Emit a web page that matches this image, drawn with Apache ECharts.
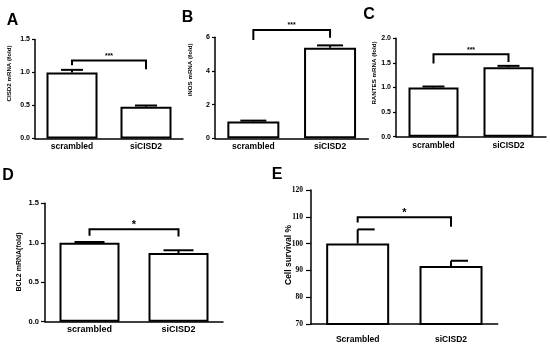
<!DOCTYPE html>
<html><head><meta charset="utf-8">
<script src="https://cdn.jsdelivr.net/npm/echarts@6/dist/echarts.min.js"></script>
<style>html,body{margin:0;padding:0;background:#fff}#c{width:550px;height:347px}</style>
</head><body><div id="c"></div>
<script>
// ---- data ----
const catsLower = ['scrambled', 'siCISD2'];
const catsE = ['Scrambled', 'siCISD2'];
const valsA = [1.0, 0.48];   const errA = [1.04, 0.50];
const valsB = [1.0, 5.38];   const errB = [1.05, 5.52];
const valsC = [1.0, 1.41];   const errC = [1.02, 1.44];
const valsD = [1.0, 0.87];   const errD = [1.01, 0.905];
const valsE = [100, 91.6];   const errE = [105.3, 93.6];
// bracket: [bar level, left leg end, right leg end, star level]
const brA = [1.18, 1.11, 1.05, 1.25];
const brB = [6.43, 5.84, 5.98, 6.75];
const brC = [1.675, 1.49, 1.52, 1.77];
const brD = [1.17, 1.09, 1.08, 1.22];
const brE = [109.8, 107.9, 106.3, 111.6];
const starsA = '***', starsB = '***', starsC = '***', starsD = '*', starsE = '*';
const titles = ['CISD2 mRNA (fold)', 'iNOS mRNA (fold)', 'RANTES mRNA (fold)', 'BCL2 mRNA(fold)', 'Cell survival %'];
const letters = ['A', 'B', 'C', 'D', 'E'];
const yTicksA = [0, 1.5, 0.5], yTicksB = [0, 6, 2], yTicksC = [0, 2, 0.5], yTicksD = [0, 1.5, 0.5], yTicksE = [70, 120, 10];

const FONT = 'Liberation Sans';
const chart = echarts.init(document.getElementById('c'), null, {renderer: 'canvas'});

const panels = [
  {grid: {left: 35, top: 39.5, width: 148, height: 99}, cats: catsLower, vals: valsA, err: errA, br: brA, stars: starsA, ticks: yTicksA, dec: 1,
   barW: 51, cap: [11, 11], tickFs: 7, catFs: 8.5, titleFs: 6.2, labMargin: 5, catMargin: 4, starFs: 7, serif: false, tickLen: 3},
  {grid: {left: 215, top: 37.3, width: 153.4, height: 101}, cats: catsLower, vals: valsB, err: errB, br: brB, stars: starsB, ticks: yTicksB, dec: 0,
   barW: 52, cap: [13, 13], tickFs: 7, catFs: 8.5, titleFs: 6.2, labMargin: 5, catMargin: 4, starFs: 7, serif: false, tickLen: 3},
  {grid: {left: 396, top: 38.3, width: 150, height: 98.4}, cats: catsLower, vals: valsC, err: errC, br: brC, stars: starsC, ticks: yTicksC, dec: 1,
   barW: 50, cap: [11, 11], tickFs: 7, catFs: 8.5, titleFs: 6.2, labMargin: 5, catMargin: 4, starFs: 7, serif: false, tickLen: 3},
  {grid: {left: 45, top: 203.3, width: 178, height: 118.4}, cats: catsLower, vals: valsD, err: errD, br: brD, stars: starsD, ticks: yTicksD, dec: 1,
   barW: 60, cap: [15, 15], tickFs: 7.5, catFs: 9, titleFs: 7, labMargin: 6, catMargin: 3, starFs: 11, serif: false, tickLen: 4},
  {grid: {left: 311, top: 190, width: 186.7, height: 134}, cats: catsE, vals: valsE, err: errE, br: brE, stars: starsE, ticks: yTicksE, dec: 0,
   barW: 63, cap: [0, 17], tickFs: 7.5, catFs: 8.5, titleFs: 8.5, labMargin: 8, catMargin: 11, starFs: 11, serif: true, tickLen: 5}
];

const grid = [], xAxis = [], yAxis = [], series = [];
panels.forEach((p, i) => {
  grid.push(Object.assign({outerBoundsMode: 'none', containLabel: false}, p.grid));
  xAxis.push({
    type: 'category', gridIndex: i, data: p.cats,
    axisLine: {lineStyle: {color: '#000', width: 1.5}},
    axisTick: {show: false},
    axisLabel: {color: '#000', fontFamily: FONT, fontWeight: 'bold', fontSize: p.catFs, margin: p.catMargin}
  });
  yAxis.push({
    type: 'value', gridIndex: i, min: p.ticks[0], max: p.ticks[1], interval: p.ticks[2],
    axisLine: {show: true, lineStyle: {color: '#000', width: 1.5}},
    axisTick: {show: true, length: p.tickLen, lineStyle: {color: '#000', width: 1.2}},
    splitLine: {show: false},
    axisLabel: {color: '#000', fontFamily: p.serif ? 'Liberation Serif' : FONT, fontWeight: 'bold', fontSize: p.tickFs, margin: p.labMargin,
      formatter: v => v.toFixed(p.dec)}
  });
  series.push({
    type: 'bar', xAxisIndex: i, yAxisIndex: i, data: p.vals, barWidth: p.barW,
    itemStyle: {color: '#fff', borderColor: '#000', borderWidth: 2}, silent: true, z: 2
  });
  const cap = p.cap;
  series.push({
    type: 'custom', xAxisIndex: i, yAxisIndex: i, z: 3, silent: true,
    data: p.vals.map((v, k) => [k, v, p.err[k]]),
    encode: {x: 0, y: 1},
    renderItem: (params, api) => {
      const a = api.coord([api.value(0), api.value(1)]);
      const b = api.coord([api.value(0), api.value(2)]);
      return {type: 'group', children: [
        {type: 'line', shape: {x1: a[0], y1: a[1], x2: b[0], y2: b[1]}, style: {stroke: '#000', lineWidth: 2}},
        {type: 'line', shape: {x1: b[0] - cap[0], y1: b[1], x2: b[0] + cap[1], y2: b[1]}, style: {stroke: '#000', lineWidth: 2}}
      ]};
    }
  });
  series.push({
    type: 'custom', xAxisIndex: i, yAxisIndex: i, z: 4, silent: true,
    data: [[0, p.br[0], p.br[1], p.br[2], p.br[3]]],
    encode: {x: 0, y: 1},
    renderItem: (params, api) => {
      const top = api.value(1), yl = api.value(2), yr = api.value(3), ys = api.value(4);
      const l0 = api.coord([0, yl]), l1 = api.coord([0, top]);
      const r1 = api.coord([1, top]), r0 = api.coord([1, yr]);
      const s = api.coord([0, ys]);
      return {type: 'group', children: [
        {type: 'polyline', shape: {points: [l0, l1, r1, r0]}, style: {stroke: '#000', lineWidth: 2, fill: null}},
        {type: 'text', x: (l1[0] + r1[0]) / 2, y: s[1], style: {text: p.stars, fill: '#000', font: 'bold ' + p.starFs + 'px ' + FONT, align: 'center', verticalAlign: 'middle'}}
      ]};
    }
  });
});

const letterPos = [[12.5, 21], [187.5, 17.5], [369, 14.5], [8, 175.5], [277, 175]];
const titlePos = [[9.5, 73.5], [190, 70], [374, 73], [19.5, 262], [288.5, 255]];
const graphic = letters.map((t, i) => ({
  type: 'text', x: letterPos[i][0], y: letterPos[i][1],
  style: {text: t, fill: '#000', font: 'bold 16px ' + FONT, align: 'center', verticalAlign: 'middle'}
})).concat(titles.map((t, i) => ({
  type: 'text', x: titlePos[i][0], y: titlePos[i][1], rotation: Math.PI / 2,
  style: {text: t, fill: '#000', font: 'bold ' + panels[i].titleFs + 'px ' + FONT, align: 'center', verticalAlign: 'middle'}
})));

chart.setOption({backgroundColor: '#fff', animation: false, grid, xAxis, yAxis, series, graphic});
</script></body></html>
